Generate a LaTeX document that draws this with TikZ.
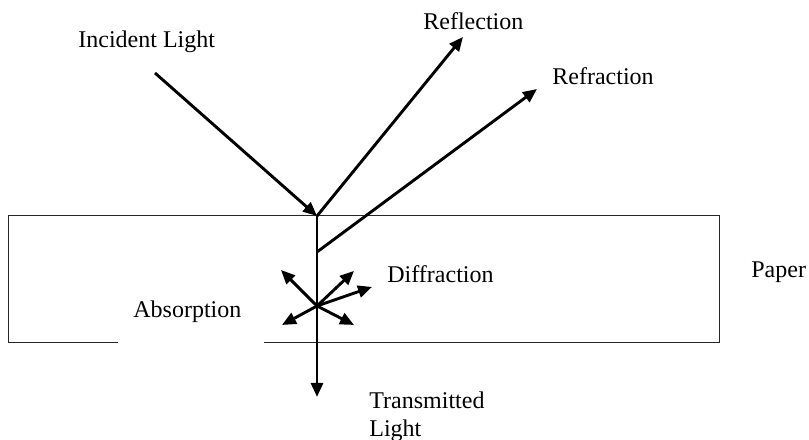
\documentclass[tikz,border=0pt]{standalone}
\usepackage{fontspec}
\setmainfont{Liberation Serif}
\usetikzlibrary{positioning, arrows.meta}

\begin{document}
\begin{tikzpicture}[
  ray/.style={-{Triangle[length=7pt, width=6pt]}, black, line width=1.45pt},
  lbl/.style={font=\fontsize{12pt}{14pt}\selectfont, text=black, inner sep=0pt},
  sheet/.style={draw=black!85, line width=0.6pt, inner sep=0pt},
]

% frame of the picture
\useasboundingbox (0,0) rectangle (14.217,7.732);

% =========================
% Paper sheet
% =========================
\node[sheet, anchor=south west, minimum width=12.494cm, minimum height=2.231cm] (paper) at (0.141,1.705) {};
\node[lbl, anchor=base west] (paperlbl) at (13.197,2.847) {Paper};

% white text box of the absorption label (cuts the lower edge)
\node[lbl, fill=white, anchor=base west, inner xsep=7.5pt, text width=58pt, align=left,
      text height=13.5pt, text depth=15.5pt] (absorb) at (2.074,2.161) {Absorption};

% =========================
% Ray points
% =========================
\coordinate (src)     at (2.724,6.449);
\coordinate (hit)     at (5.571,3.936);
\coordinate (bend)    at (5.571,3.304);
\coordinate (scatter) at (5.571,2.355);
\coordinate (reflTip) at (8.136,7.082);
\coordinate (refrTip) at (9.437,6.168);
\coordinate (tranTip) at (5.571,0.756);

% diffraction tips
\coordinate (dUL) at (4.938,2.987);
\coordinate (dUR) at (6.221,2.970);
\coordinate (dR)  at (6.537,2.689);
\coordinate (dLL) at (4.956,2.021);
\coordinate (dLR) at (6.221,2.021);

% =========================
% Rays
% =========================
\draw[ray] (src) -- (hit);
\draw[ray] (hit) -- (reflTip);
\draw[ray] (bend) -- (refrTip);
\draw[ray] (hit) -- (tranTip);

\foreach \t in {dUL,dUR,dR,dLL,dLR} {
  \draw[ray] (scatter) -- (\t);
}

% =========================
% Labels
% =========================
\node[lbl, anchor=base west] (incident) at (1.371,6.889) {Incident Light};
\node[lbl, anchor=base west] (reflect)  at (7.433,7.205) {Reflection};
\node[lbl, anchor=base west] (refract)  at (9.700,6.238) {Refraction};
\node[lbl, anchor=base west] (diffract) at (6.801,2.759) {Diffraction};
\node[lbl, anchor=north west, align=left] (transmit) at (6.484,0.850) {Transmitted\\Light};

\end{tikzpicture}
\end{document}
